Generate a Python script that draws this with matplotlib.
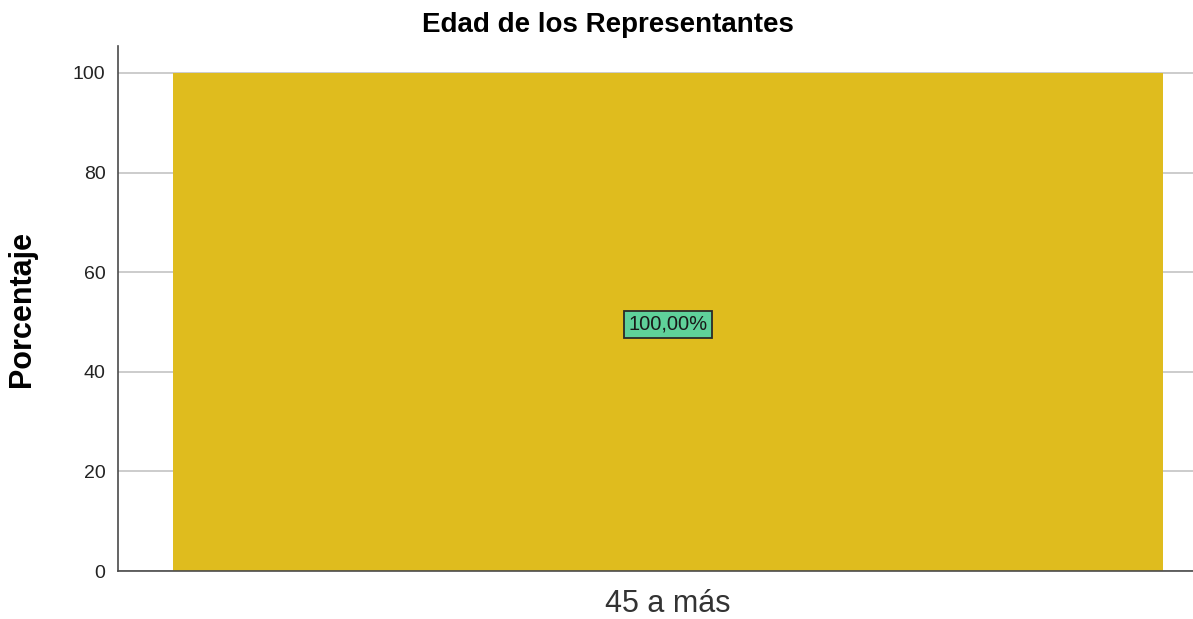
import matplotlib

matplotlib.use("Agg")
import matplotlib.pyplot as plt

categories = ["45 a más"]
percentages = [100.0]
value_labels = ["100,00%"]
yticks = [0, 20, 40, 60, 80, 100]

plt.rcParams["font.family"] = ["Liberation Sans", "DejaVu Sans"]

fig = plt.figure(figsize=(11.93, 6.19), dpi=100)
ax = fig.add_axes([0.0989, 0.0775, 0.9011, 0.8482])

x = list(range(len(categories)))
ax.bar(x, percentages, width=1.0, color="#dfbc1e", zorder=2)
ax.set_xlim(-0.5 - 55 / 990, len(categories) - 0.5 + 30 / 990)
ax.set_ylim(0, 105.4)

for xi, v, lab in zip(x, percentages, value_labels):
    ax.text(xi, v / 2 - 0.5, lab, ha="center", va="center", fontsize=14.5, color="#1a1a1a",
            bbox=dict(boxstyle="square,pad=0.22", fc="#5fd19a", ec="#2a2a2a", lw=1.3),
            zorder=3)

ax.set_yticks(yticks)
ax.set_yticklabels([str(t) for t in yticks], fontsize=14, color="#222222")
ax.set_xticks(x)
ax.set_xticklabels(categories, fontsize=22, color="#333333")
ax.tick_params(axis="y", length=0, pad=9)
ax.tick_params(axis="x", length=0, pad=13)
ax.yaxis.grid(True, color="#c8c8c8", lw=1.3, zorder=1)
ax.set_axisbelow(True)
for s in ("top", "right"):
    ax.spines[s].set_visible(False)
for s in ("left", "bottom"):
    ax.spines[s].set_color("#4a4a4a")
    ax.spines[s].set_linewidth(1.2)

ax.set_ylabel("Porcentaje", fontsize=22, fontweight="bold")
ax.yaxis.set_label_coords(-0.075, 0.5)
fig.suptitle("Edad de los Representantes", x=0.51, y=0.98, fontsize=20, fontweight="bold")

fig.savefig("out.png", dpi=100)
